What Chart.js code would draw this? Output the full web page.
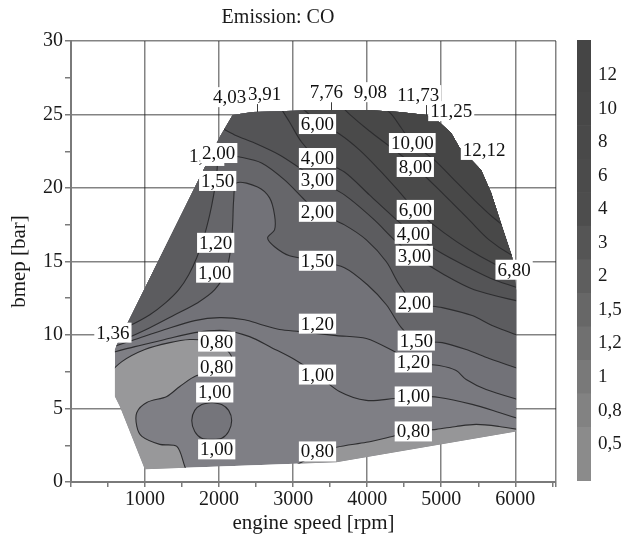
<!DOCTYPE html>
<html><head><meta charset="utf-8">
<script src="https://cdn.jsdelivr.net/npm/chart.js@4.4.1/dist/chart.umd.min.js"></script>
<style>
html,body{margin:0;padding:0;background:#fff;}
#wrap{position:relative;width:624px;height:541px;}
#main{position:absolute;left:0;top:0;}
#bar{position:absolute;left:560px;top:0;}
</style></head><body>
<div id="wrap"><canvas id="main" width="624" height="541"></canvas><canvas id="bar" width="64" height="541"></canvas></div>
<script>
// ---------- data (engine speed [rpm], bmep [bar]) ----------
const xTickLabels = [1000, 2000, 3000, 4000, 5000, 6000];
const yTickLabels = [0, 5, 10, 15, 20, 25, 30];
const xMax = 6550;

// outline of the measured area
const envelope = [[2008,23.47],[2183,24.96],[2453,25.17],[3356,25.30],[3989,25.30],[4434,25.17],[4798,24.96],[4973,24.49],[5135,23.74],[5243,22.79],[5391,22.0],[5539,21.23],[5674,19.67],[5822,17.36],[5957,15.32],[6011,13.08],[6011,3.44],[3585,1.34],[997,0.86],[660,5.14],[593,5.82],[593,9.01],[620,9.35]];

// iso-lines of CO
const c1000 = [[4164,25.70],[4326,25.03],[4461,24.08],[4609,23.06],[4906,21.91],[5175,20.55],[5445,19.19],[5674,18.11],[5943,17.02]];
const c800 = [[3625,25.70],[3760,25.03],[4030,23.88],[4367,22.59],[4650,21.43],[5040,19.53],[5377,17.83],[5647,16.47],[5943,15.46],[6186,14.98]];
const c600 = [[3032,25.70],[3181,25.17],[3329,24.49],[3625,23.67],[3895,22.59],[4164,21.23],[4434,19.74],[4650,18.51],[5040,16.95],[5377,15.80],[5714,14.85],[6118,13.90]];
const c400 = [[2817,25.57],[2951,24.49],[3113,23.13],[3329,22.04],[3693,21.09],[4030,19.53],[4367,17.97],[4623,16.88],[4973,15.66],[5377,14.57],[5714,13.76],[6118,13.08]];
const c300 = [[1981,24.22],[2210,23.61],[2480,23.06],[2817,22.25],[3086,21.37],[3329,20.55],[3693,19.53],[4097,17.83],[4367,16.47],[4636,15.39],[5040,14.10],[5445,13.08],[6118,12.20]];
const c200 = [[458,9.89],[768,10.57],[1065,11.38],[1280,12.20],[1456,13.08],[1590,14.10],[1698,15.25],[1792,16.61],[1873,18.17],[1927,19.53],[1968,20.89],[1995,21.91],[2116,22.18],[2278,22.11],[2574,21.70],[2884,20.55],[3154,19.19],[3329,18.38],[3693,17.49],[3989,16.47],[4259,14.98],[4434,13.42],[4636,12.20],[5013,11.86],[5418,11.32],[5687,10.64],[6118,9.82]];
const c150 = [[458,9.28],[768,9.82],[1065,10.50],[1402,11.38],[1712,12.20],[1941,13.08],[2089,14.30],[2156,15.80],[2183,17.49],[2197,19.19],[2237,20.35],[2520,20.07],[2682,19.33],[2749,18.16],[2749,17.15],[2655,16.61],[2749,16.00],[2951,15.39],[3329,15.05],[3693,14.58],[4003,13.42],[4259,12.06],[4461,10.50],[4663,9.62],[5013,9.48],[5337,9.01],[5647,8.40],[6118,7.58]];
const c120 = [[458,9.01],[863,9.69],[1267,10.37],[1671,10.98],[2008,11.18],[2345,11.04],[2574,10.70],[2817,10.37],[3086,10.23],[3585,9.96],[3989,9.76],[4367,8.87],[4623,8.13],[4973,7.92],[5202,7.58],[5337,6.97],[5606,6.29],[6118,5.48]];
const c100 = [[458,8.67],[863,9.21],[1267,9.69],[1671,10.16],[2075,10.30],[2412,9.89],[2709,9.14],[3019,8.33],[3329,7.31],[3625,6.16],[3989,5.55],[4367,5.68],[4623,5.82],[4973,5.75],[5418,5.28],[5782,4.73],[6118,4.19]];
const c080L = [[458,7.11],[687,8.19],[997,9.01],[1334,9.48],[1604,9.69],[1806,9.62],[2035,9.28],[2170,8.47],[2062,7.65],[1698,7.24],[1469,6.50],[1294,5.82],[1024,5.41],[889,4.73],[889,3.78],[957,3.10],[1199,2.56],[1429,2.42],[1536,1.07],[1604,0.18]];
const c080R = [[3032,1.13],[3329,1.88],[3585,2.36],[3989,2.70],[4339,3.10],[4623,3.44],[4933,3.58],[5202,3.78],[5472,3.92],[5782,3.78],[6118,3.51]];
const oval100 = [[1900,5.41],[2035,5.28],[2129,4.87],[2170,4.19],[2129,3.44],[2035,2.97],[1900,2.90],[1766,2.97],[1671,3.44],[1631,4.19],[1671,4.87],[1766,5.28]];

// contour labels
const labelText = ['4,03','3,91','7,76','9,08','11,73','11,25','12,12','6,80','1,36',
 '6,00','4,00','3,00','2,00','1,50','1,20','1,00','0,80',
 '10,00','8,00','6,00','4,00','3,00','2,00','1,50','1,20','1,00','0,80',
 '1,92','2,00','1,50','1,20','1,00','0,80','0,80','1,00','1,00'];
const labelRpm = [2143,2615,3450,4043,4690,5135,5580,5984,566,
 3329,3329,3329,3329,3329,3329,3329,3329,
 4609,4650,4650,4623,4636,4636,4663,4623,4623,4623,
 1819,1995,1981,1954,1941,1968,1968,1941,1968];
const labelBmep = [26.18,26.39,26.52,26.52,26.32,25.23,22.59,14.44,10.16,
 24.35,22.04,20.55,18.38,15.05,10.77,7.31,2.08,
 23.06,21.43,18.51,16.88,15.39,12.20,9.62,8.13,5.82,3.44,
 22.18,22.38,20.48,16.27,14.24,9.55,7.85,6.09,2.22];
const leaderRpm = [2507, 3517, 4798];
const leaderFrom = [25.78, 25.84, 25.70];
const leaderTo = [25.17, 25.30, 24.90];

// colour bar
const cbLabels = ['0,5','0,8','1','1,2','1,5','2','3','4','6','8','10','12'];
const cbColors = ['#8b8b8b','#828282','#797979','#707070','#676767','#5e5e5e','#555555','#4d4d4d','#4b4b4b','#494949','#474747','#454545'];

// ---------- helpers ----------
const FONT = '"Liberation Serif","Times New Roman",serif';
Chart.defaults.font.family = FONT;
Chart.defaults.color = '#1a1a1a';
const toPts = a => a.map(p => ({x: p[0], y: p[1]}));
function extend(c) {
  const n = c.length, a = c[0], b = c[1], z = c[n - 1], w = c[n - 2];
  return [[a[0] + (a[0] - b[0]) * 0.5, a[1] + (a[1] - b[1]) * 0.5], ...c,
          [z[0] + (z[0] - w[0]) * 0.5, z[1] + (z[1] - w[1]) * 0.5]];
}
function above(c) { const e = extend(c); return e.concat([[e[e.length - 1][0], 31], [e[0][0], 31]]); }
function below(c) { const e = extend(c); return e.concat([[e[e.length - 1][0], -2], [e[0][0], -2]]); }

const fillBands = [
  [envelope, '#7f7f85', 0],
  [above(c100), '#79797f', 0.3],
  [above(c120), '#727278', 0.3],
  [above(c150), '#66666a', 0.3],
  [above(c200), '#5c5c5f', 0.3],
  [above(c300), '#545456', 0.3],
  [above(c400), '#4d4d4e', 0.3],
  [above(c600), '#4a4a4a', 0.3],
  [above(c800), '#484848', 0.3],
  [above(c1000), '#464646', 0.3],
  [below(c080L), '#98989a', 0.3],
  [below(c080R), '#969698', 0.3],
  [oval100.concat([oval100[0]]), '#75757b', 0.3]
];
const isoLines = [c1000, c800, c600, c400, c300, c200, c150, c120, c100, c080L, c080R, oval100.concat([oval100[0]])];

const datasets = [];
fillBands.forEach((b, i) => datasets.push({
  data: toPts(b[0]), showLine: true, fill: 'shape', backgroundColor: b[1],
  borderColor: 'rgba(0,0,0,0)', borderWidth: 0, pointRadius: 0, pointHitRadius: 0,
  tension: b[2], order: 1000 - i
}));
isoLines.forEach(l => datasets.push({
  data: toPts(l), showLine: true, fill: false, borderColor: '#2d2d2f', borderWidth: 1.1,
  pointRadius: 0, pointHitRadius: 0, tension: 0.3, order: 0
}));

const clipPlugin = {
  id: 'envClip',
  beforeDatasetsDraw(chart) {
    const {ctx, scales: {x, y}} = chart;
    ctx.save();
    ctx.beginPath();
    envelope.forEach((p, i) => {
      const px = x.getPixelForValue(p[0]), py = y.getPixelForValue(p[1]);
      if (i) ctx.lineTo(px, py); else ctx.moveTo(px, py);
    });
    ctx.closePath();
    ctx.clip();
  },
  afterDatasetsDraw(chart) { chart.ctx.restore(); }
};

const labelPlugin = {
  id: 'isoLabels',
  afterDraw(chart) {
    const {ctx, scales: {x, y}} = chart;
    ctx.save();
    ctx.strokeStyle = '#3a3a3a'; ctx.lineWidth = 1;
    leaderRpm.forEach((r, i) => {
      const px = Math.round(x.getPixelForValue(r)) + 0.5;
      ctx.beginPath(); ctx.moveTo(px, y.getPixelForValue(leaderFrom[i])); ctx.lineTo(px, y.getPixelForValue(leaderTo[i])); ctx.stroke();
    });
    ctx.font = '19px ' + FONT;
    ctx.textAlign = 'center'; ctx.textBaseline = 'middle';
    labelText.forEach((t, i) => {
      const px = x.getPixelForValue(labelRpm[i]), py = y.getPixelForValue(labelBmep[i]);
      const w = ctx.measureText(t).width + 4, h = 20;
      ctx.fillStyle = '#fff';
      ctx.fillRect(px - w / 2, py - h / 2, w, h);
      ctx.fillStyle = '#111';
      ctx.fillText(t, px, py + 1);
    });
    ctx.restore();
  }
};

const gridCol = 'rgba(30,30,30,0.55)';
const clear = 'rgba(0,0,0,0)';
new Chart(document.getElementById('main'), {
  type: 'line',
  data: {datasets},
  options: {
    responsive: false, animation: false, events: [],
    layout: {padding: {left: 0, right: 68, top: 0, bottom: 0}},
    plugins: {
      legend: {display: false}, tooltip: {enabled: false},
      title: {display: true, text: 'Emission: CO', color: '#1a1a1a',
        font: {size: 20, weight: 'normal', family: FONT, lineHeight: 1.2}, padding: {top: 6, bottom: 11}}
    },
    scales: {
      x: {
        type: 'linear', min: 0, max: xMax, z: 1,
        afterBuildTicks: s => {
          const t = [];
          for (let v = 0; v < xMax; v += 500) t.push({value: v});
          t.push({value: xMax});
          s.ticks = t;
        },
        afterFit: s => { s.height = 59; },
        ticks: {autoSkip: false, maxRotation: 0, padding: 1, color: '#1a1a1a', font: {size: 20},
          callback: v => xTickLabels.includes(v) ? String(v) : ''},
        grid: {lineWidth: 1.5, tickLength: 5, tickColor: '#7a7a7a',
          color: c => (c.tick && (xTickLabels.includes(c.tick.value) || c.tick.value === xMax)) ? gridCol : clear},
        border: {color: '#7a7a7a', width: 2},
        title: {display: true, text: 'engine speed [rpm]', color: '#1a1a1a', font: {size: 21, family: FONT}, padding: {top: 0, bottom: 5}}
      },
      y: {
        type: 'linear', min: 0, max: 30, z: 1,
        afterBuildTicks: s => {
          const t = [];
          for (let v = 0; v <= 30; v += 2.5) t.push({value: v});
          s.ticks = t;
        },
        afterFit: s => { s.width = 71; },
        ticks: {autoSkip: false, padding: 2, color: '#1a1a1a', font: {size: 20},
          callback: v => yTickLabels.includes(v) ? String(v) : ''},
        grid: {lineWidth: 1.5, tickLength: 6, tickColor: '#7a7a7a',
          color: c => (c.tick && yTickLabels.includes(c.tick.value) && c.tick.value > 0) ? gridCol : clear},
        border: {color: '#7a7a7a', width: 2},
        title: {display: true, text: 'bmep [bar]', color: '#1a1a1a', font: {size: 21, family: FONT}, padding: {top: 7, bottom: 0}}
      }
    }
  },
  plugins: [clipPlugin, labelPlugin]
});

// ---------- colour bar ----------
new Chart(document.getElementById('bar'), {
  type: 'bar',
  data: {
    labels: [''],
    datasets: cbLabels.map((l, i) => ({
      data: [[i === 0 ? -1.1 : i - 0.5, i === cbLabels.length - 1 ? 12.05 : i + 0.5]],
      backgroundColor: cbColors[i], borderWidth: 0, grouped: false,
      barPercentage: 1, categoryPercentage: 1
    }))
  },
  options: {
    responsive: false, animation: false, events: [],
    layout: {padding: {left: 17, top: 40, bottom: 60, right: 0}},
    plugins: {legend: {display: false}, tooltip: {enabled: false}},
    scales: {
      x: {display: false},
      y: {
        position: 'right', min: -1.1, max: 12.05,
        afterFit: s => { s.width = 33; },
        ticks: {stepSize: 1, padding: 7, color: '#1a1a1a', font: {size: 19},
          callback: v => (cbLabels[v] !== undefined ? cbLabels[v] : '')},
        grid: {display: false, drawTicks: false}, border: {display: false}
      }
    }
  }
});
</script>
</body></html>
